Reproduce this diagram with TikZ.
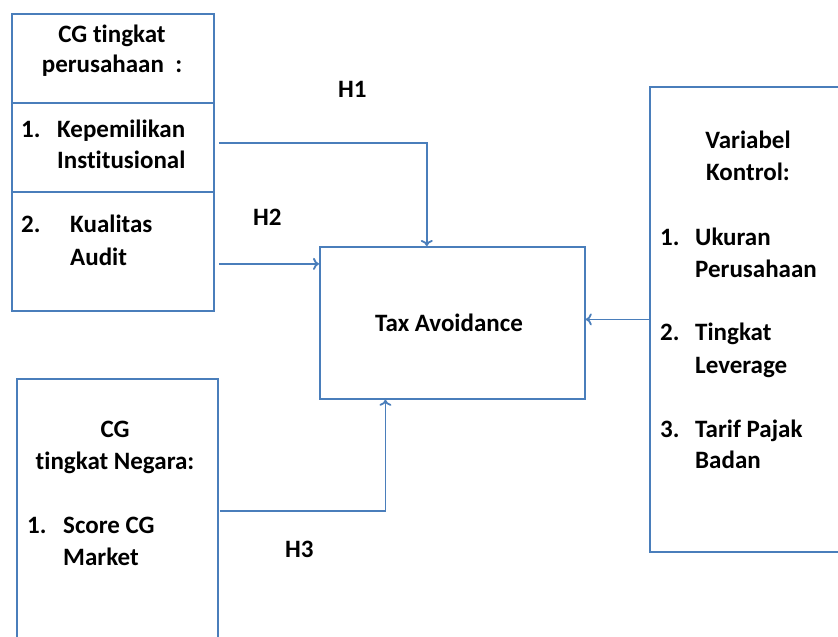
\documentclass[tikz,border=0pt]{standalone}
\usepackage{fontspec}
\setmainfont[RawFeature={-liga}]{Carlito}
\usetikzlibrary{arrows.meta,calc}
\definecolor{ln}{HTML}{4A7EBB}
\begin{document}
\begin{tikzpicture}[x=1pt,y=-1pt,
  box/.style={draw=ln,line width=1.8pt,inner sep=0pt,anchor=north west},
  txt/.style={inner sep=0pt,anchor=base west,font=\fontsize{25}{30}\selectfont\bfseries},
  ctxt/.style={inner sep=0pt,anchor=base,font=\fontsize{25}{30}\selectfont\bfseries},
  arr/.style={draw=ln,line width=1.8pt,-{To[length=6pt,width=12pt]}}]
\useasboundingbox (0,0) rectangle (838,637);
\clip (0,0) rectangle (838,637);
% boxes
\node[box,minimum width=202pt,minimum height=89pt] (b1a) at (11,13) {};
\node[box,minimum width=202pt,minimum height=89pt] (b1b) at (11,102) {};
\node[box,minimum width=202pt,minimum height=119pt] (b1c) at (11,191) {};
\node[box,minimum width=265pt,minimum height=152pt] (tax) at (319,246) {};
\node[box,minimum width=201pt,minimum height=300pt] (b3) at (16,378) {};
\node[box,minimum width=220pt,minimum height=465pt] (rb) at (649,86) {};
% texts
\node[ctxt] (t1) at (112,42) {CG tingkat};
\node[ctxt] (t2) at (112,72) {perusahaan\ \ :};
\node[txt] (t3) at (21,137) {1.};
\node[txt] (t4) at (57,137) {Kepemilikan};
\node[txt] (t5) at (57,168) {Institusional};
\node[txt] (t6) at (21,232) {2.};
\node[txt] (t7) at (70,232) {Kualitas};
\node[txt] (t8) at (70,265) {Audit};
\node[ctxt] (tt) at (449,331) {Tax Avoidance};
\node[ctxt] (c1) at (115,437) {CG};
\node[ctxt] (c2) at (115,469) {tingkat Negara:};
\node[txt] (c3) at (27,533) {1.};
\node[txt] (c4) at (63,533) {Score CG};
\node[txt] (c5) at (63,565) {Market};
\node[ctxt] (v1) at (748,148) {Variabel};
\node[ctxt] (v2) at (748,180) {Kontrol:};
\node[txt] (v3) at (660,245) {1.};
\node[txt] (v4) at (695,245) {Ukuran};
\node[txt] (v5) at (695,277) {Perusahaan};
\node[txt] (v6) at (660,340) {2.};
\node[txt] (v7) at (695,340) {Tingkat};
\node[txt] (v8) at (695,373) {Leverage};
\node[txt] (v9) at (660,437) {3.};
\node[txt] (v10) at (695,437) {Tarif Pajak};
\node[txt] (v11) at (695,468) {Badan};
\node[txt] (h1) at (338,97) {H1};
\node[txt] (h2) at (253,225) {H2};
\node[txt] (h3) at (285,557) {H3};
% connectors
\coordinate (s1) at ($(b1b.east)+(4,-4.5)$);
\coordinate (s2) at ($(b1c.east)+(4,12.5)$);
\coordinate (s3) at ($(b3.east)+(1,-18)$);
\coordinate (e1) at ($(tax.north west)!0.404!(tax.north east)$);
\coordinate (e3) at ($(tax.south west)!0.249!(tax.south east)$);
\draw[arr] (s1) -| (e1);
\draw[arr] (s2) -- (s2 -| tax.west);
\draw[arr] (s3) -| (e3);
\draw[arr] (rb.west) -- (rb.west -| tax.east);
\end{tikzpicture}
\end{document}
